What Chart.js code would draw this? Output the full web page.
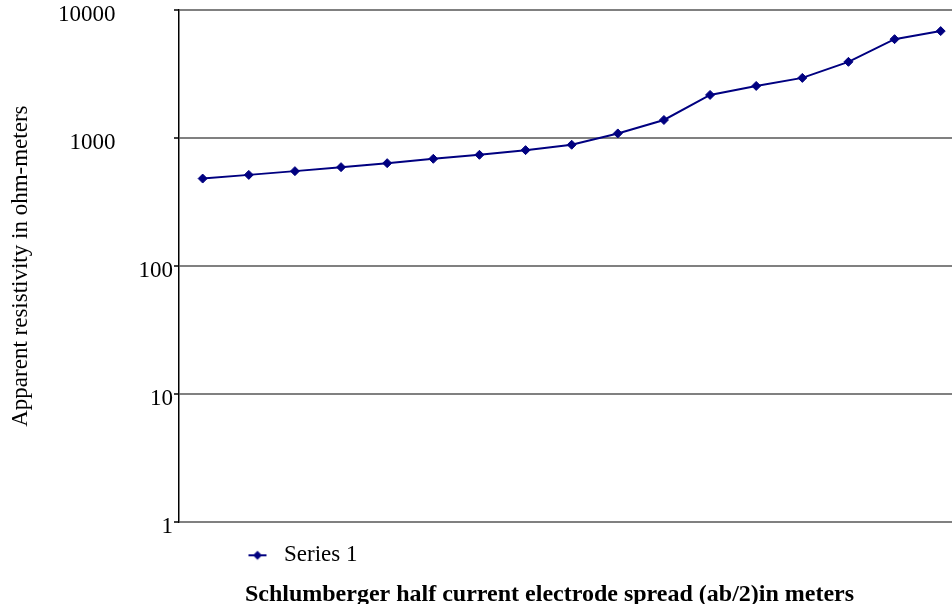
<!DOCTYPE html>
<html>
<head>
<meta charset="utf-8">
<script src="https://cdn.jsdelivr.net/npm/chart.js@4"></script>
<style>
  html, body { margin: 0; padding: 0; background: #fff; overflow: hidden; }
  #wrap { width: 952px; height: 604px; position: relative; }
</style>
</head>
<body>
<div id="wrap"><canvas id="chart"></canvas></div>
<script>
"use strict";

// sounding stations along the spread (no labels shown on the x axis)
const stations = [1, 2, 3, 4, 5, 6, 7, 8, 9, 10, 11, 12, 13, 14, 15, 16, 17];
const resistivity = [483, 516, 552, 593, 637, 689, 740, 805, 887, 1087, 1384, 2172, 2553, 2951, 3938, 5919, 6843];
const yTicks = [1, 10, 100, 1000, 10000];

const navy = "#000080";
const serif = "'Liberation Serif', 'Times New Roman', serif";

// legend marker: short line with a diamond on it
function legendMarker() {
    const c = document.createElement("canvas");
    c.width = 20;
    c.height = 12;
    const g = c.getContext("2d");
    g.strokeStyle = navy;
    g.lineWidth = 2;
    g.beginPath();
    g.moveTo(1, 6);
    g.lineTo(19, 6);
    g.stroke();
    g.fillStyle = navy;
    g.beginPath();
    g.moveTo(10, 1.5);
    g.lineTo(14.5, 6);
    g.lineTo(10, 10.5);
    g.lineTo(5.5, 6);
    g.closePath();
    g.fill();
    return c;
}

// move legend and bottom title sideways to where the original sits them
const nudgeBoxes = {
    id: "nudgeBoxes",
    afterLayout(chart) {
        chart.legend.left += 42;
        chart.legend.right += 42;
        chart.titleBlock.left -= 16;
        chart.titleBlock.right -= 16;
    }
};

const points = stations.map((s, i) => ({ x: s, y: resistivity[i] }));

new Chart(document.getElementById("chart"), {
    type: "line",
    data: {
        datasets: [{
            label: "Series 1",
            data: points,
            borderColor: navy,
            backgroundColor: navy,
            borderWidth: 2,
            pointStyle: "rectRot",
            pointRadius: 4.5,
            pointBorderWidth: 1,
            pointBackgroundColor: navy,
            pointBorderColor: navy,
            tension: 0
        }]
    },
    options: {
        responsive: true,
        maintainAspectRatio: false,
        animation: false,
        layout: { autoPadding: false, padding: { top: 10, left: 0, right: 0, bottom: 0 } },
        scales: {
            x: {
                type: "linear",
                min: 0.487,
                max: 17.245,
                display: false
            },
            y: {
                type: "logarithmic",
                min: 1,
                max: 10000,
                afterBuildTicks: (scale) => {
                    scale.ticks = yTicks.map(v => ({ value: v }));
                },
                afterFit: (scale) => {
                    scale.width = 179;
                    scale.paddingTop = 0;
                    scale.paddingBottom = 0;
                },
                border: { color: "#000", width: 1.5 },
                grid: {
                    color: "#808080",
                    lineWidth: 2,
                    tickColor: "#000",
                    tickLength: 5,
                    tickWidth: 1.5
                },
                ticks: {
                    color: "#000",
                    font: { family: serif, size: 23 },
                    padding: 1,
                    labelOffset: 5,
                    // the two top labels stand further off the axis in the original
                    callback: (v) => v >= 1000 ? String(v) + "          " : String(v)
                },
                title: {
                    display: true,
                    text: "Apparent resistivity in ohm-meters",
                    color: "#000",
                    font: { family: serif, size: 23 },
                    padding: { top: 7, bottom: 4 }
                }
            }
        },
        plugins: {
            legend: {
                position: "bottom",
                align: "start",
                fullSize: false,
                labels: {
                    color: "#000",
                    font: { family: serif, size: 23 },
                    padding: 21.5,
                    usePointStyle: true,
                    pointStyle: legendMarker(),
                    pointStyleWidth: 30
                }
            },
            title: {
                display: true,
                position: "bottom",
                fullSize: false,
                text: "Schlumberger half current electrode spread (ab/2)in meters",
                color: "#000",
                font: { family: serif, size: 24, weight: "bold", lineHeight: 0.8 },
                padding: { top: 8, bottom: 0 }
            },
            tooltip: { enabled: false }
        }
    },
    plugins: [nudgeBoxes]
});
</script>
</body>
</html>
